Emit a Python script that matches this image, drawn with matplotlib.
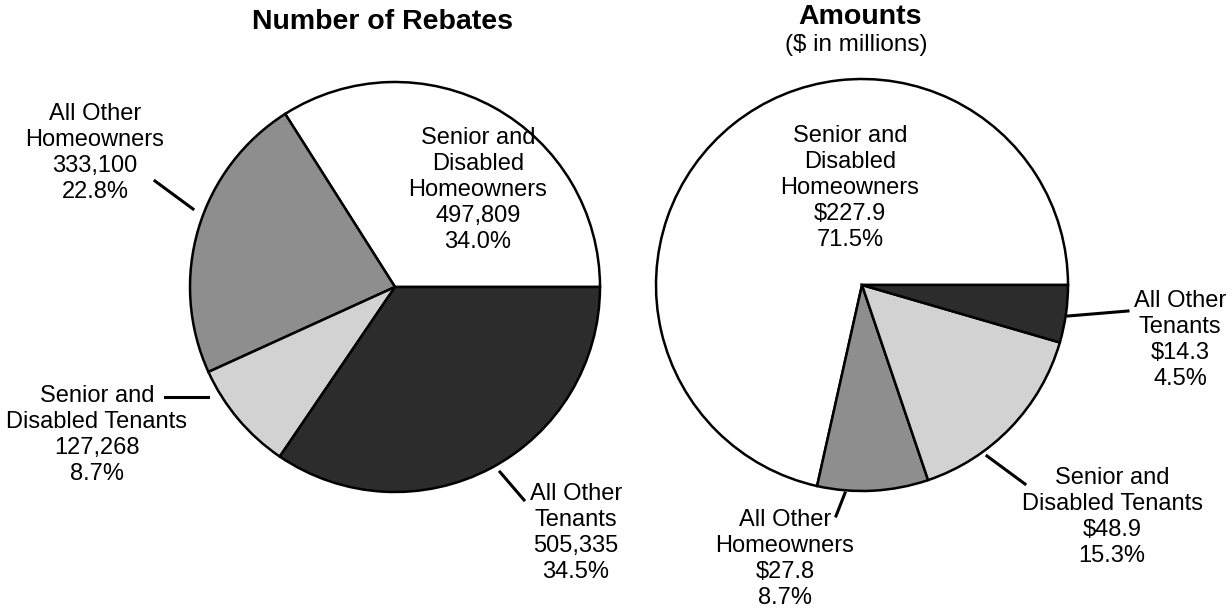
import matplotlib
matplotlib.use("Agg")
import matplotlib.pyplot as plt

plt.rcParams['font.family'] = ['Liberation Sans', 'DejaVu Sans']

W, H = 1232, 610

# Segments (counter-clockwise from 3 o'clock)
segments = ["Senior and Disabled Homeowners", "All Other Homeowners",
            "Senior and Disabled Tenants", "All Other Tenants"]
count_pct = [34.0, 22.8, 8.7, 34.5]
count_vals = ["497,809", "333,100", "127,268", "505,335"]

amount_pct = [71.5, 8.7, 15.3, 4.5]
amount_vals = ["$227.9", "$27.8", "$48.9", "$14.3"]

fills = {
    "Senior and Disabled Homeowners": "#ffffff",
    "All Other Homeowners": "#8e8e8e",
    "Senior and Disabled Tenants": "#d2d2d2",
    "All Other Tenants": "#2c2c2c",
}

label_text = {
    "Senior and Disabled Homeowners": "Senior and\nDisabled\nHomeowners",
    "All Other Homeowners": "All Other\nHomeowners",
    "Senior and Disabled Tenants": "Senior and\nDisabled Tenants",
    "All Other Tenants": "All Other\nTenants",
}

fig = plt.figure(figsize=(W / 100, H / 100), dpi=100)


def pie_axes(cx, cy, r):
    ax = fig.add_axes([(cx - r) / W, (H - cy - r) / H, 2 * r / W, 2 * r / H])
    ax.set_axis_off()
    return ax


def fx(x):
    return x / W


def fy(y):
    return 1 - y / H


def label(x, y, text, **kw):
    fig.text(fx(x), fy(y), text, ha="center", va="center",
             multialignment="center", fontsize=17, linespacing=1.23, **kw)


def leader(x0, y0, x1, y1):
    fig.add_artist(plt.Line2D([fx(x0), fx(x1)], [fy(y0), fy(y1)],
                              color="black", lw=2.2, transform=fig.transFigure))


wedge_style = dict(edgecolor="black", linewidth=1.8)

# Left pie: number of rebates
ax1 = pie_axes(395, 287, 205)
ax1.pie(count_pct, colors=[fills[s] for s in segments], startangle=0,
        counterclock=True, radius=1.0, wedgeprops=wedge_style)
ax1.set_xlim(-1.0, 1.0)
ax1.set_ylim(-1.0, 1.0)

# Right pie: amounts, same segment order
ax2 = pie_axes(862, 285, 206)
ax2.pie(amount_pct, colors=[fills[s] for s in segments], startangle=0,
        counterclock=True, radius=1.0, wedgeprops=wedge_style)
ax2.set_xlim(-1.0, 1.0)
ax2.set_ylim(-1.0, 1.0)

# Titles
fig.text(fx(383), fy(22), "Number of Rebates", ha="center", va="center",
         fontsize=20.5, fontweight="bold")
fig.text(fx(860), fy(17), "Amounts", ha="center", va="center",
         fontsize=20.5, fontweight="bold")
fig.text(fx(856), fy(45), "($ in millions)", ha="center", va="center",
         fontsize=17.5)

# Left pie labels
left_pos = {
    "Senior and Disabled Homeowners": (478, 190),
    "All Other Homeowners": (95, 153),
    "Senior and Disabled Tenants": (97, 435),
    "All Other Tenants": (576, 533),
}
for s, p, v in zip(segments, count_pct, count_vals):
    x, y = left_pos[s]
    label(x, y, f"{label_text[s]}\n{v}\n{p:.1f}%")

leader(155, 181, 193, 209)
leader(165, 397, 208, 397)
leader(500, 472, 524, 500)

# Right pie labels
right_pos = {
    "Senior and Disabled Homeowners": (850, 188),
    "All Other Homeowners": (785, 559),
    "Senior and Disabled Tenants": (1112, 517),
    "All Other Tenants": (1180, 340),
}
for s, p, v in zip(segments, amount_pct, amount_vals):
    x, y = right_pos[s]
    label(x, y, f"{label_text[s]}\n{v}\n{p:.1f}%")

leader(1068, 316, 1128, 311)
leader(987, 456, 1025, 484)
leader(845, 493, 836, 516)

fig.savefig("out.png", dpi=100, facecolor="white")
